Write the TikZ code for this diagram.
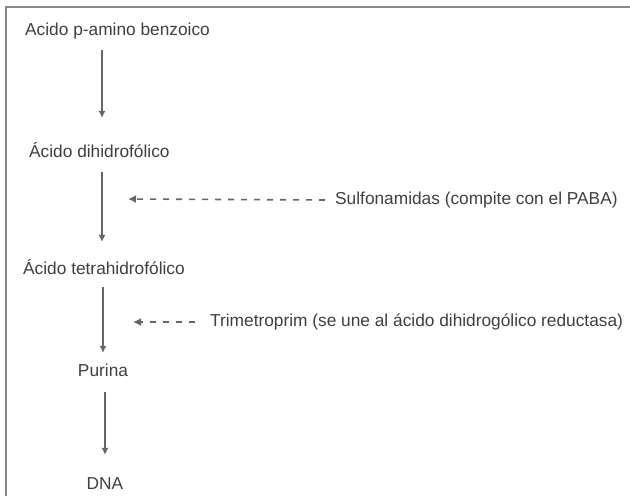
\documentclass[tikz,border=0pt]{standalone}
\usepackage{fontspec}
\setmainfont{Liberation Sans}
\usepackage{xcolor}
\usepackage{tikz}
\usetikzlibrary{arrows.meta}
\definecolor{txtgray}{HTML}{3f3f3f}
\definecolor{lingray}{HTML}{666666}
\definecolor{margray}{HTML}{8a8a8a}

\tikzset{
  paso/.style={inner sep=0pt,text height=12.5pt,text depth=3.5pt,text=txtgray,
    font=\fontsize{17.3}{20}\selectfont},
  flecha/.style={lingray,line width=1.1pt,-{Latex[length=7pt,width=7pt]}},
  inhib/.style={lingray,line width=1.6pt,dash pattern=on 6pt off 7pt,
    -{Latex[length=8pt,width=8pt]}}
}

\begin{document}
\begin{tikzpicture}[x=1pt,y=-1pt]
  \useasboundingbox (0,0) rectangle (630,496);
  \draw[margray,line width=1.6pt] (6,496) -- (6,7) -- (630,7);

  % ruta
  \node[paso,anchor=west] (paba) at (25,31) {Acido p-amino benzoico};
  \node[paso,anchor=west] (dhf) at (29,153) {Ácido dihidrofólico};
  \node[paso,anchor=west] (thf) at (23,270) {Ácido tetrahidrofólico};
  \node[paso] (pur) at (103,372) {Purina};
  \node[paso] (dna) at (105,485) {DNA};

  \coordinate (ejeA) at (102,0);
  \coordinate (ejeB) at (103,0);
  \coordinate (ejeC) at (105,0);
  \draw[flecha,shorten <=11pt,shorten >=27pt] (paba.south -| ejeA) -- (dhf.north -| ejeA);
  \draw[flecha,shorten <=11pt,shorten >=20pt] (dhf.south -| ejeA) -- (thf.north -| ejeA);
  \draw[flecha,shorten <=9pt,shorten >=11pt] (thf.south -| ejeB) -- (pur.north -| ejeB);
  \draw[flecha,shorten <=12pt,shorten >=22pt] (pur.south -| ejeC) -- (dna.north -| ejeC);

  % inhibidores
  \node[paso,anchor=west] (sulfa) at (335,200) {Sulfonamidas (compite con el PABA)};
  \node[paso,anchor=west] (trim) at (210,322) {Trimetroprim (se une al ácido dihidrogólico reductasa)};
  \coordinate (t1) at (128,199);
  \coordinate (t2) at (133,322);
  \draw[inhib] ([xshift=-10pt]sulfa.west) -- (t1);
  \draw[inhib] ([xshift=-15pt]trim.west) -- (t2);
\end{tikzpicture}
\end{document}
